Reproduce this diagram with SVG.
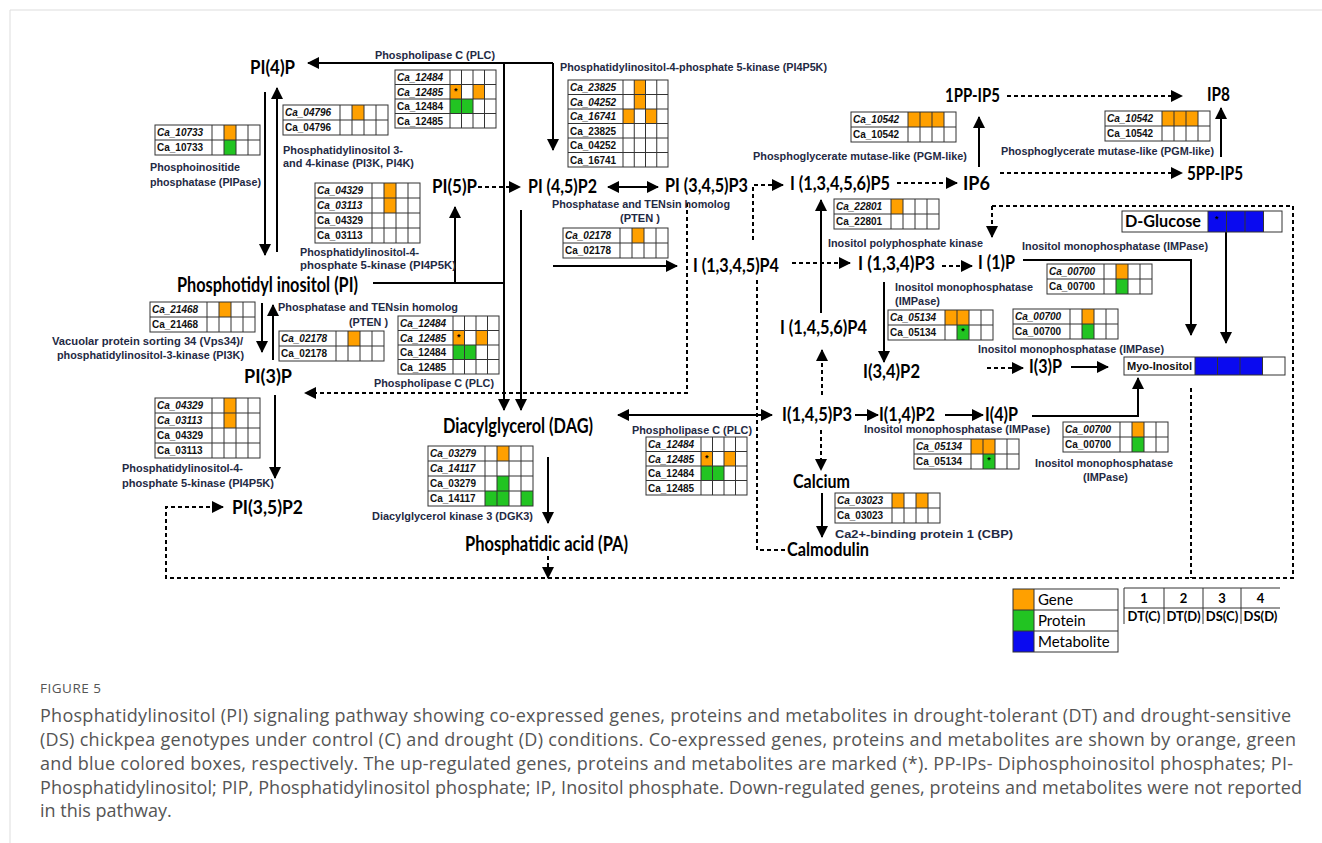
<svg xmlns="http://www.w3.org/2000/svg" xmlns:xlink="http://www.w3.org/1999/xlink" width="1322" height="843" viewBox="0 0 1322 843">
<style>
.n{font-family:Lato,'Liberation Sans',sans-serif;font-weight:bold;font-size:18px;fill:#000}
.nb{font-size:20px}
.e{font-family:'Liberation Sans',Arial,sans-serif;font-weight:bold;font-size:10.5px;fill:#1F2A44}
.c{font-family:'Liberation Sans',Arial,sans-serif;font-weight:bold;font-size:10px;fill:#111}
.i{font-style:italic}
.ast{font-family:'Liberation Sans',Arial,sans-serif;font-size:9px;font-weight:bold;fill:#000;text-anchor:middle}
.s{stroke:#000;stroke-width:2;fill:none}
.d{stroke:#000;stroke-width:2;fill:none;stroke-dasharray:4 3}
.o{fill:#FFA000}.g{fill:#22C422}.b{fill:#0A0AF0}
.grid{stroke:#333;stroke-width:1;fill:none}
.lg{font-family:Lato,'Liberation Sans',sans-serif;font-size:15px;fill:#000}
.hd{font-family:Lato,'Liberation Sans',sans-serif;font-weight:bold;font-size:13px;fill:#000;text-anchor:middle}
.cap{font-family:'Open Sans','Noto Sans',sans-serif;font-size:18px;fill:#555}
</style>
<defs>
<marker id="ah" markerUnits="userSpaceOnUse" markerWidth="12" markerHeight="12" refX="11" refY="6" orient="auto-start-reverse"><path d="M0,0 L12,6 L0,12 z" fill="#000"/></marker>
<g id="g2" class="grid"><rect x="0" y="0" width="105" height="30"/><path d="M0,15H105M57,0V30M69,0V30M81,0V30M93,0V30"/></g>
<g id="g4" class="grid"><rect x="0" y="0" width="105" height="60"/><path d="M0,15H105M0,30H105M0,45H105M57,0V60M69,0V60M81,0V60M93,0V60"/></g>
<g id="p4" class="grid"><rect x="0" y="0" width="101" height="58"/><path d="M0,14.5H101M0,29H101M0,43.5H101M55,0V58M66.5,0V58M78,0V58M89.5,0V58"/></g>
<g id="g6" class="grid"><rect x="0" y="0" width="100" height="87"/><path d="M0,14.5H100M0,29H100M0,43.5H100M0,58H100M0,72.5H100M55,0V87M66.25,0V87M77.5,0V87M88.75,0V87"/></g>
<g id="tbl-plc">
<rect class="o" x="55" y="14.5" width="11.5" height="14.5"/><rect class="o" x="78" y="14.5" width="11.5" height="14.5"/>
<rect class="g" x="55" y="29" width="11.5" height="14.5"/><rect class="g" x="66.5" y="29" width="11.5" height="14.5"/>
<use href="#p4"/>
<text class="c i" x="2" y="11">Ca_12484</text><text class="c i" x="2" y="25.5">Ca_12485</text>
<text class="c" x="2" y="40">Ca_12484</text><text class="c" x="2" y="54.5">Ca_12485</text>
<text class="ast" x="60.75" y="24">*</text>
</g>
<g id="tbl-02178"><rect class="o" x="69" y="0" width="12" height="15"/><use href="#g2"/><text class="c i" x="2" y="11">Ca_02178</text><text class="c" x="2" y="26">Ca_02178</text></g>
<g id="tbl-04329"><rect class="o" x="69" y="0" width="12" height="30"/><use href="#g4"/><text class="c i" x="2" y="11">Ca_04329</text><text class="c i" x="2" y="26">Ca_03113</text><text class="c" x="2" y="41">Ca_04329</text><text class="c" x="2" y="56">Ca_03113</text></g>
<g id="tbl-10542"><rect class="o" x="57" y="0" width="36" height="15"/><use href="#g2"/><text class="c i" x="2" y="11">Ca_10542</text><text class="c" x="2" y="26">Ca_10542</text></g>
<g id="tbl-00700"><rect class="o" x="69" y="0" width="12" height="15"/><rect class="g" x="69" y="15" width="12" height="15"/><use href="#g2"/><text class="c i" x="2" y="11">Ca_00700</text><text class="c" x="2" y="26">Ca_00700</text></g>
<g id="tbl-05134"><rect class="o" x="57" y="0" width="24" height="15"/><rect class="g" x="69" y="15" width="12" height="15"/><use href="#g2"/><text class="c i" x="2" y="11">Ca_05134</text><text class="c" x="2" y="26">Ca_05134</text><text class="ast" x="75" y="24">*</text></g>
</defs>

<rect x="0" y="0" width="1322" height="843" fill="#fff"/>
<path d="M10,843V10H1322" stroke="#ddd" stroke-width="1" fill="none"/>

<g id="connectors">
<path class="s" d="M553,63H308" marker-end="url(#ah)"/>
<path class="s" d="M553,63V150" marker-end="url(#ah)"/>
<path class="s" d="M504,63V410" marker-end="url(#ah)"/>
<path class="s" d="M265,92V255" marker-end="url(#ah)"/>
<path class="s" d="M277,252V88" marker-end="url(#ah)"/>
<path class="s" d="M373,283H504"/>
<path class="s" d="M455,283V207" marker-end="url(#ah)"/>
<path class="d" d="M478,187H520" marker-end="url(#ah)"/>
<path class="s" d="M608,187H658" marker-start="url(#ah)" marker-end="url(#ah)"/>
<path class="s" d="M521,210V410" marker-end="url(#ah)"/>
<path class="s" d="M553,266H677" marker-end="url(#ah)"/>
<path class="d" d="M687,203V393H305" marker-end="url(#ah)"/>
<path class="d" d="M753,240V185H783" marker-end="url(#ah)"/>
<path class="d" d="M757,280V550H785"/>
<path class="d" d="M897,183H957" marker-end="url(#ah)"/>
<path class="s" d="M979,167V117" marker-end="url(#ah)"/>
<path class="d" d="M1007,96H1182" marker-end="url(#ah)"/>
<path class="d" d="M1000,173H1182" marker-end="url(#ah)"/>
<path class="s" d="M1221,157V108" marker-end="url(#ah)"/>
<path class="d" d="M792,263H850" marker-end="url(#ah)"/>
<path class="d" d="M942,266H972" marker-end="url(#ah)"/>
<path class="s" d="M821,313V200" marker-end="url(#ah)"/>
<path class="s" d="M884,282V362" marker-end="url(#ah)"/>
<path class="s" d="M1023,260H1191V335" marker-end="url(#ah)"/>
<path class="s" d="M1226,232V343" marker-end="url(#ah)"/>
<path class="d" d="M992,206V237" marker-end="url(#ah)"/>
<path class="d" d="M992,206H1293V578H166V507H223" marker-end="url(#ah)"/>
<path class="d" d="M987,368H1023" marker-end="url(#ah)"/>
<path class="s" d="M1071,367H1108" marker-end="url(#ah)"/>
<path class="s" d="M1032,416H1138V378" marker-end="url(#ah)"/>
<path class="d" d="M1191,388V578"/>
<path class="d" d="M822,395V350" marker-end="url(#ah)"/>
<path class="s" d="M855,415H878" marker-end="url(#ah)"/>
<path class="s" d="M945,415H983" marker-end="url(#ah)"/>
<path class="s" d="M618,415H772" marker-start="url(#ah)" marker-end="url(#ah)"/>
<path class="d" d="M821,430V470" marker-end="url(#ah)"/>
<path class="s" d="M822,493V537" marker-end="url(#ah)"/>
<path class="s" d="M262,303V352" marker-end="url(#ah)"/>
<path class="s" d="M273,360V305" marker-end="url(#ah)"/>
<path class="s" d="M275,395V478" marker-end="url(#ah)"/>
<path class="s" d="M548,457V523" marker-end="url(#ah)"/>
<path class="d" d="M548,556V578" marker-end="url(#ah)"/>
</g>

<g id="node-pi4p"><text class="n" x="250" y="74" textLength="45" lengthAdjust="spacingAndGlyphs">PI(4)P</text></g>
<g id="node-pi5p"><text class="n" x="432" y="193" textLength="45" lengthAdjust="spacingAndGlyphs">PI(5)P</text></g>
<g id="node-pi45p2"><text class="n" x="528" y="193" textLength="69" lengthAdjust="spacingAndGlyphs">PI (4,5)P2</text></g>
<g id="node-pi345p3"><text class="n" x="665" y="192" textLength="83" lengthAdjust="spacingAndGlyphs">PI (3,4,5)P3</text></g>
<g id="node-i13456p5"><text class="n" x="790" y="190" textLength="100" lengthAdjust="spacingAndGlyphs">I (1,3,4,5,6)P5</text></g>
<g id="node-ip6"><text class="n" x="963" y="190" textLength="27" lengthAdjust="spacingAndGlyphs">IP6</text></g>
<g id="node-1ppip5"><text class="n" x="945" y="102" textLength="55" lengthAdjust="spacingAndGlyphs">1PP-IP5</text></g>
<g id="node-ip8"><text class="n" x="1207" y="101" textLength="23" lengthAdjust="spacingAndGlyphs">IP8</text></g>
<g id="node-5ppip5"><text class="n" x="1187" y="180" textLength="56" lengthAdjust="spacingAndGlyphs">5PP-IP5</text></g>
<g id="node-i1345p4"><text class="n" x="693" y="272" textLength="86" lengthAdjust="spacingAndGlyphs">I (1,3,4,5)P4</text></g>
<g id="node-i134p3"><text class="n" x="858" y="270" textLength="77" lengthAdjust="spacingAndGlyphs">I (1,3,4)P3</text></g>
<g id="node-i1p"><text class="n" x="978" y="269" textLength="37" lengthAdjust="spacingAndGlyphs">I (1)P</text></g>
<g id="node-i1456p4"><text class="n" x="780" y="334" textLength="87" lengthAdjust="spacingAndGlyphs">I (1,4,5,6)P4</text></g>
<g id="node-i34p2"><text class="n" x="863" y="378" textLength="57" lengthAdjust="spacingAndGlyphs">I(3,4)P2</text></g>
<g id="node-i3p"><text class="n" x="1029" y="373" textLength="33" lengthAdjust="spacingAndGlyphs">I(3)P</text></g>
<g id="node-i145p3"><text class="n" x="782" y="421" textLength="70" lengthAdjust="spacingAndGlyphs">I(1,4,5)P3</text></g>
<g id="node-i14p2"><text class="n" x="879" y="421" textLength="56" lengthAdjust="spacingAndGlyphs">I(1,4)P2</text></g>
<g id="node-i4p"><text class="n" x="985" y="421" textLength="33" lengthAdjust="spacingAndGlyphs">I(4)P</text></g>
<g id="node-calcium"><text class="n" x="793" y="488" textLength="57" lengthAdjust="spacingAndGlyphs">Calcium</text></g>
<g id="node-calmodulin"><text class="n" x="787" y="556" textLength="82" lengthAdjust="spacingAndGlyphs">Calmodulin</text></g>
<g id="node-dag"><text class="n nb" x="443" y="433" textLength="150" lengthAdjust="spacingAndGlyphs">Diacylglycerol (DAG)</text></g>
<g id="node-pa"><text class="n nb" x="465" y="551" textLength="163" lengthAdjust="spacingAndGlyphs">Phosphatidic acid (PA)</text></g>
<g id="node-pi"><text class="n nb" x="177" y="292" textLength="181" lengthAdjust="spacingAndGlyphs">Phosphotidyl inositol (PI)</text></g>
<g id="node-pi3p"><text class="n" x="244" y="383" textLength="48" lengthAdjust="spacingAndGlyphs" style="font-size:19px">PI(3)P</text></g>
<g id="node-pi35p2"><text class="n" x="232" y="514" textLength="71" lengthAdjust="spacingAndGlyphs" style="font-size:19px">PI(3,5)P2</text></g>

<g id="node-dglucose">
<rect x="1208" y="211" width="55.5" height="21" class="b"/>
<rect x="1122" y="211" width="160" height="21" class="grid"/>
<path class="grid" d="M1208,211V232M1226.5,211V232M1245,211V232M1263.5,211V232"/>
<text class="n" x="1125" y="227" style="font-size:17px" textLength="76" lengthAdjust="spacingAndGlyphs">D-Glucose</text>
<text class="ast" x="1217" y="222">*</text>
</g>
<g id="node-myoinositol">
<rect x="1195" y="357" width="67.5" height="18" class="b"/>
<rect x="1124" y="357" width="161" height="18" class="grid"/>
<path class="grid" d="M1195,357V375M1217.5,357V375M1240,357V375M1262.5,357V375"/>
<text class="c" x="1127" y="370" style="font-size:11.5px" textLength="65" lengthAdjust="spacingAndGlyphs">Myo-Inositol</text>
</g>

<g id="enz-plc-top">
<text class="e" x="375" y="59" textLength="120" lengthAdjust="spacingAndGlyphs">Phospholipase C (PLC)</text>
<use href="#tbl-plc" transform="translate(395,70)"/>
</g>
<g id="enz-pi3k-pi4k">
<g transform="translate(283,105)"><rect class="o" x="69" y="0" width="12" height="15"/><use href="#g2"/><text class="c i" x="2" y="11">Ca_04796</text><text class="c" x="2" y="26">Ca_04796</text></g>
<text class="e" x="283" y="154" textLength="120" lengthAdjust="spacingAndGlyphs">Phosphatidylinositol 3-</text>
<text class="e" x="283" y="167" textLength="131" lengthAdjust="spacingAndGlyphs">and 4-kinase (PI3K, PI4K)</text>
</g>
<g id="enz-pipase">
<g transform="translate(155,125)"><rect class="o" x="69" y="0" width="12" height="15"/><rect class="g" x="69" y="15" width="12" height="15"/><use href="#g2"/><text class="c i" x="2" y="11">Ca_10733</text><text class="c" x="2" y="26">Ca_10733</text></g>
<text class="e" x="150" y="171" textLength="90" lengthAdjust="spacingAndGlyphs">Phosphoinositide</text>
<text class="e" x="150" y="186" textLength="111" lengthAdjust="spacingAndGlyphs">phosphatase (PIPase)</text>
</g>
<g id="enz-pi4p5k-a">
<use href="#tbl-04329" transform="translate(315,183)"/>
<text class="e" x="300" y="256" textLength="119" lengthAdjust="spacingAndGlyphs">Phosphatidylinositol-4-</text>
<text class="e" x="300" y="269" textLength="156" lengthAdjust="spacingAndGlyphs">phosphate 5-kinase (PI4P5K)</text>
</g>
<g id="enz-pi4p5k-top">
<text class="e" x="560" y="71" textLength="267" lengthAdjust="spacingAndGlyphs">Phosphatidylinositol-4-phosphate 5-kinase (PI4P5K)</text>
<g transform="translate(568,80)">
<rect class="o" x="66.25" y="0" width="11.25" height="29"/><rect class="o" x="55" y="29" width="11.25" height="14.5"/><rect class="o" x="77.5" y="29" width="11.25" height="14.5"/>
<use href="#g6"/>
<text class="c i" x="2" y="11">Ca_23825</text><text class="c i" x="2" y="25.5">Ca_04252</text><text class="c i" x="2" y="40">Ca_16741</text>
<text class="c" x="2" y="54.5">Ca_23825</text><text class="c" x="2" y="69">Ca_04252</text><text class="c" x="2" y="83.5">Ca_16741</text>
</g>
</g>
<g id="enz-pten-right">
<text class="e" x="552" y="208" textLength="178" lengthAdjust="spacingAndGlyphs">Phosphatase and TENsin homolog</text>
<text class="e" x="620" y="222" textLength="40" lengthAdjust="spacingAndGlyphs">(PTEN )</text>
<use href="#tbl-02178" transform="translate(563,228)"/>
</g>
<g id="enz-pgm-mid">
<use href="#tbl-10542" transform="translate(851,112)"/>
<text class="e" x="753" y="160" textLength="214" lengthAdjust="spacingAndGlyphs">Phosphoglycerate mutase-like (PGM-like)</text>
</g>
<g id="enz-pgm-right">
<use href="#tbl-10542" transform="translate(1105,111)"/>
<text class="e" x="1001" y="155" textLength="213" lengthAdjust="spacingAndGlyphs">Phosphoglycerate mutase-like (PGM-like)</text>
</g>
<g id="enz-ipk">
<g transform="translate(834,199)"><rect class="o" x="57" y="0" width="12" height="15"/><use href="#g2"/><text class="c i" x="2" y="11">Ca_22801</text><text class="c" x="2" y="26">Ca_22801</text></g>
<text class="e" x="828" y="247" textLength="155" lengthAdjust="spacingAndGlyphs">Inositol polyphosphate kinase</text>
</g>
<g id="enz-impase-1">
<text class="e" x="1022" y="250" textLength="186" lengthAdjust="spacingAndGlyphs">Inositol monophosphatase (IMPase)</text>
<use href="#tbl-00700" transform="translate(1047,264)"/>
</g>
<g id="enz-impase-2">
<text class="e" x="895" y="291" textLength="138" lengthAdjust="spacingAndGlyphs">Inositol monophosphatase</text>
<text class="e" x="895" y="305" textLength="45" lengthAdjust="spacingAndGlyphs">(IMPase)</text>
<use href="#tbl-05134" transform="translate(888,310)"/>
</g>
<g id="enz-impase-3">
<use href="#tbl-00700" transform="translate(1013,309)"/>
<text class="e" x="978" y="353" textLength="186" lengthAdjust="spacingAndGlyphs">Inositol monophosphatase (IMPase)</text>
</g>
<g id="enz-impase-4">
<text class="e" x="864" y="433" textLength="186" lengthAdjust="spacingAndGlyphs">Inositol monophosphatase (IMPase)</text>
<use href="#tbl-05134" transform="translate(914,439)"/>
</g>
<g id="enz-impase-5">
<use href="#tbl-00700" transform="translate(1063,422)"/>
<text class="e" x="1035" y="467" textLength="138" lengthAdjust="spacingAndGlyphs">Inositol monophosphatase</text>
<text class="e" x="1083" y="481" textLength="45" lengthAdjust="spacingAndGlyphs">(IMPase)</text>
</g>
<g id="enz-vps34">
<g transform="translate(150,302)"><rect class="o" x="69" y="0" width="12" height="15"/><use href="#g2"/><text class="c i" x="2" y="11">Ca_21468</text><text class="c" x="2" y="26">Ca_21468</text></g>
<text class="e" x="52" y="345" textLength="191" lengthAdjust="spacingAndGlyphs">Vacuolar protein sorting 34 (Vps34)/</text>
<text class="e" x="57" y="359" textLength="187" lengthAdjust="spacingAndGlyphs">phosphatidylinositol-3-kinase (PI3K)</text>
</g>
<g id="enz-pten-left">
<text class="e" x="278" y="311" textLength="180" lengthAdjust="spacingAndGlyphs">Phosphatase and TENsin homolog</text>
<text class="e" x="349" y="326" textLength="39" lengthAdjust="spacingAndGlyphs">(PTEN )</text>
<use href="#tbl-02178" transform="translate(279,331)"/>
</g>
<g id="enz-plc-mid">
<use href="#tbl-plc" transform="translate(398,316)"/>
<text class="e" x="374" y="387" textLength="120" lengthAdjust="spacingAndGlyphs">Phospholipase C (PLC)</text>
</g>
<g id="enz-pi4p5k-b">
<use href="#tbl-04329" transform="translate(155,398)"/>
<text class="e" x="122" y="472" textLength="121" lengthAdjust="spacingAndGlyphs">Phosphatidylinositol-4-</text>
<text class="e" x="122" y="487" textLength="152" lengthAdjust="spacingAndGlyphs">phosphate 5-kinase (PI4P5K)</text>
</g>
<g id="enz-dgk3">
<g transform="translate(428,446)">
<rect class="o" x="69" y="0" width="12" height="15"/><rect class="g" x="69" y="30" width="12" height="30"/><rect class="g" x="57" y="45" width="12" height="15"/><rect class="g" x="93" y="45" width="12" height="15"/>
<use href="#g4"/>
<text class="c i" x="2" y="11">Ca_03279</text><text class="c i" x="2" y="26">Ca_14117</text><text class="c" x="2" y="41">Ca_03279</text><text class="c" x="2" y="56">Ca_14117</text>
</g>
<text class="e" x="372" y="520" textLength="161" lengthAdjust="spacingAndGlyphs">Diacylglycerol kinase 3 (DGK3)</text>
</g>
<g id="enz-plc-bottom">
<text class="e" x="632" y="434" textLength="120" lengthAdjust="spacingAndGlyphs">Phospholipase C (PLC)</text>
<use href="#tbl-plc" transform="translate(646,437)"/>
</g>
<g id="enz-cbp">
<g transform="translate(835,493)"><rect class="o" x="57" y="0" width="12" height="15"/><rect class="o" x="81" y="0" width="12" height="15"/><use href="#g2"/><text class="c i" x="2" y="11">Ca_03023</text><text class="c" x="2" y="26">Ca_03023</text></g>
<text class="e" x="835" y="538" textLength="178" lengthAdjust="spacingAndGlyphs">Ca2+-binding protein 1 (CBP)</text>
</g>

<g id="legend">
<rect x="1013" y="589" width="21" height="21" class="o"/>
<rect x="1013" y="610" width="21" height="21" class="g"/>
<rect x="1013" y="631" width="21" height="21" class="b"/>
<rect x="1013" y="589" width="105" height="63" class="grid"/>
<path class="grid" d="M1013,610H1118M1013,631H1118M1034,589V652"/>
<text class="lg" x="1038" y="605">Gene</text>
<text class="lg" x="1038" y="626">Protein</text>
<text class="lg" x="1038" y="647">Metabolite</text>
</g>
<g id="columns-key">
<path class="grid" d="M1124,588H1280M1124,608H1280M1124,588V624M1164,588V624M1203,588V624M1241,588V624"/>
<text class="hd" x="1144" y="603">1</text><text class="hd" x="1183.5" y="603">2</text><text class="hd" x="1222" y="603">3</text><text class="hd" x="1260.5" y="603">4</text>
<text class="hd" x="1144" y="621">DT(C)</text><text class="hd" x="1183.5" y="621">DT(D)</text><text class="hd" x="1222" y="621">DS(C)</text><text class="hd" x="1260.5" y="621">DS(D)</text>
</g>

<g id="caption">
<text x="40" y="693" style="font-family:'Open Sans','Noto Sans',sans-serif;font-size:13.5px;fill:#555;letter-spacing:0.5px">FIGURE 5</text>
<text class="cap" x="40" y="722" textLength="1251" lengthAdjust="spacing">Phosphatidylinositol (PI) signaling pathway showing co-expressed genes, proteins and metabolites in drought-tolerant (DT) and drought-sensitive</text>
<text class="cap" x="40" y="746" textLength="1256" lengthAdjust="spacing">(DS) chickpea genotypes under control (C) and drought (D) conditions. Co-expressed genes, proteins and metabolites are shown by orange, green</text>
<text class="cap" x="40" y="770" textLength="1253" lengthAdjust="spacing">and blue colored boxes, respectively. The up-regulated genes, proteins and metabolites are marked (*). PP-IPs- Diphosphoinositol phosphates; PI-</text>
<text class="cap" x="40" y="794" textLength="1262" lengthAdjust="spacing">Phosphatidylinositol; PIP, Phosphatidylinositol phosphate; IP, Inositol phosphate. Down-regulated genes, proteins and metabolites were not reported</text>
<text class="cap" x="40" y="817">in this pathway.</text>
</g>
</svg>
